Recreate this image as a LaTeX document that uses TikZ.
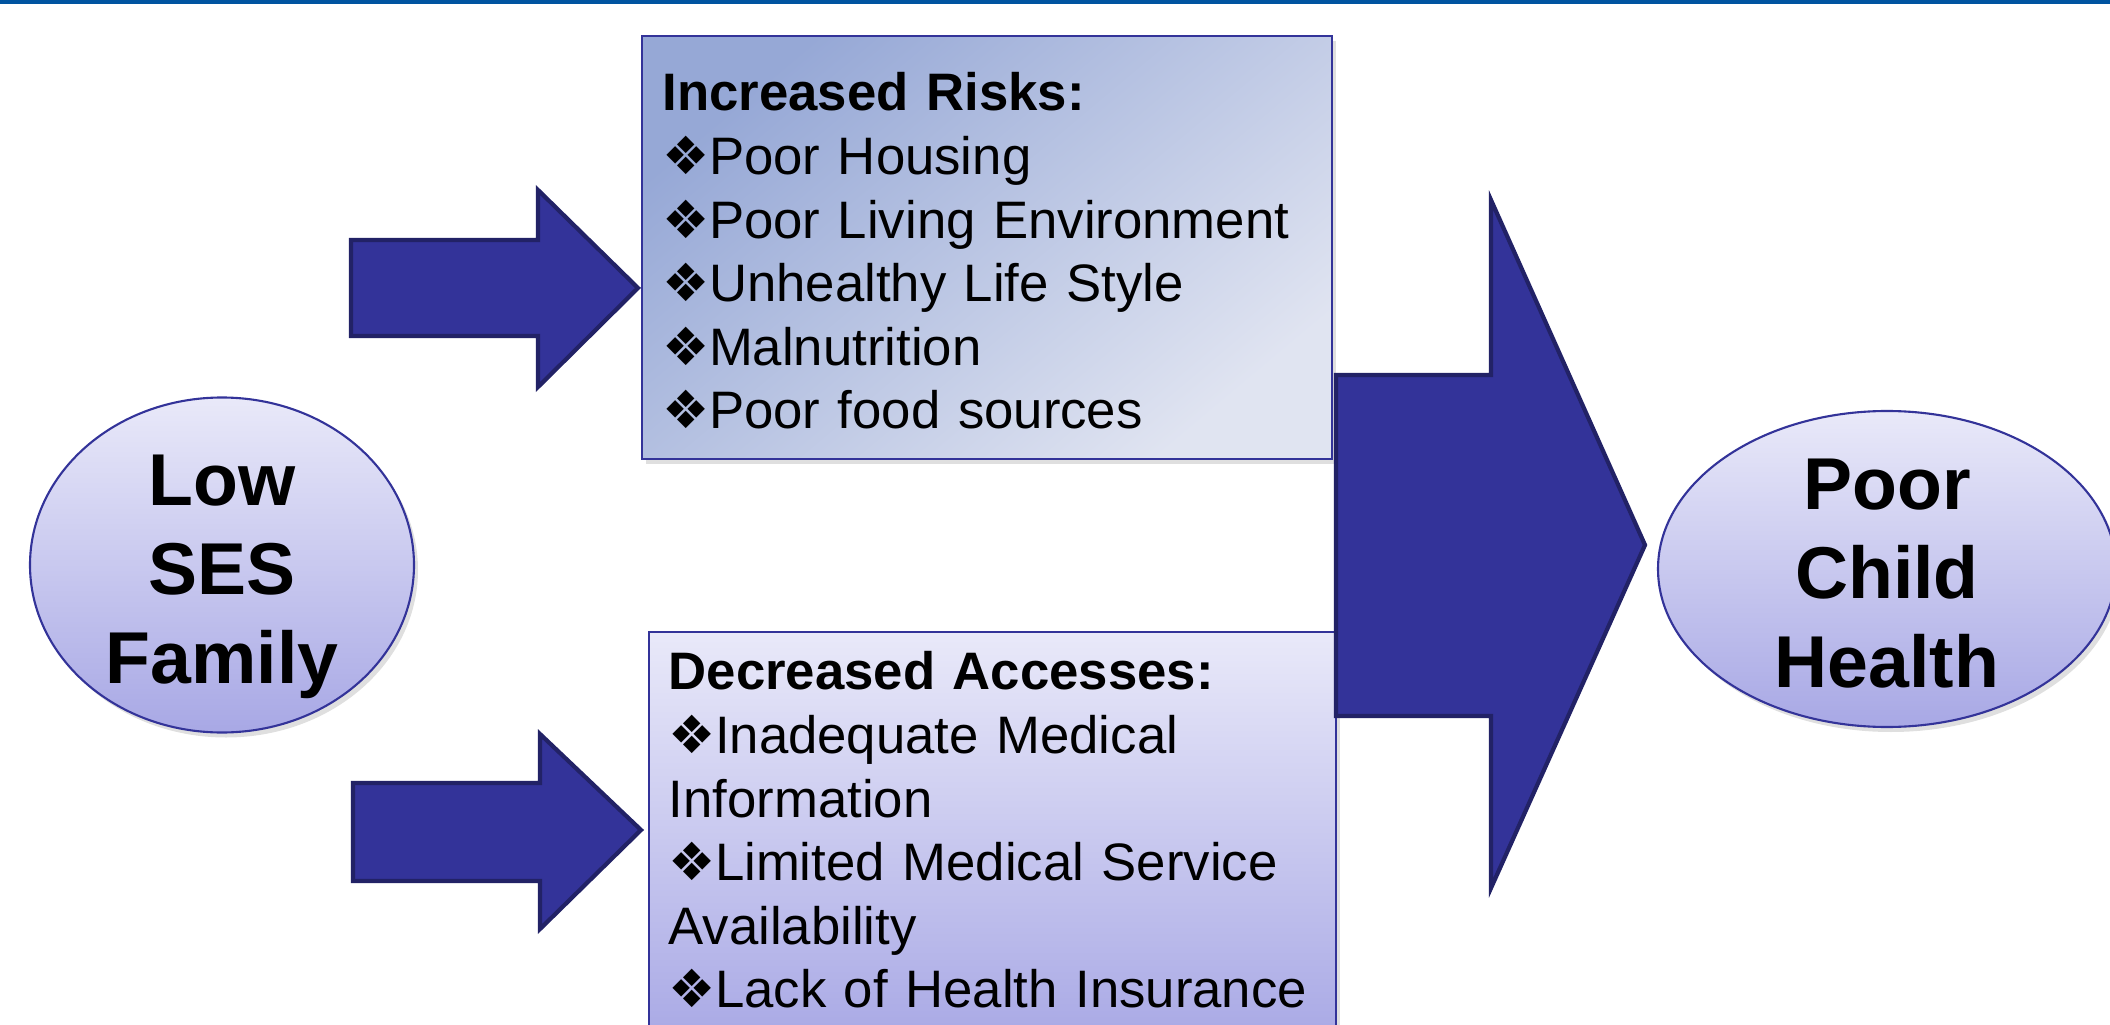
\documentclass[tikz,border=0pt]{standalone}
\usepackage{fontspec}
\setmainfont{Liberation Sans}
\newfontfamily\dingfont{DejaVu Sans}
\usetikzlibrary{positioning,shapes.geometric,shadows}

\definecolor{slideblue}{RGB}{0,84,160}
\definecolor{arrowfill}{RGB}{51,51,153}
\definecolor{arrowedge}{RGB}{34,34,102}
\definecolor{edgeblue}{RGB}{51,51,153}
\definecolor{riskdark}{RGB}{150,168,214}
\definecolor{risklight}{RGB}{224,228,241}
\definecolor{paletop}{RGB}{233,233,249}
\definecolor{palebot}{RGB}{168,168,229}

\newcommand{\dbul}{\makebox[0.88em][l]{\dingfont\fontsize{15}{15}\selectfont ❖}}

\begin{document}
\begin{tikzpicture}[
  blockarrow/.style={fill=arrowfill, draw=arrowedge, line width=1.2pt, line join=miter},
  oval/.style={ellipse, draw=edgeblue, line width=0.6pt, top color=paletop, bottom color=palebot,
    drop shadow={shadow xshift=0.04cm, shadow yshift=-0.05cm, opacity=0.25}},
  ovaltext/.style={align=center, inner sep=0pt, font=\bfseries\fontsize{20.9}{25.3}\selectfont},
  riskbox/.style={rectangle, draw=edgeblue, line width=0.6pt, top color=riskdark, bottom color=risklight,
    shading angle=40, minimum width=6.9cm, minimum height=4.23cm,
    drop shadow={shadow xshift=0.04cm, shadow yshift=-0.05cm, opacity=0.25}},
  accessbox/.style={rectangle, draw=edgeblue, line width=0.6pt, top color=paletop, bottom color=palebot,
    minimum width=6.87cm, minimum height=4.13cm,
    drop shadow={shadow xshift=0.04cm, shadow yshift=-0.05cm, opacity=0.25}},
  listtext/.style={inner sep=0pt, text width=6.55cm, align=left, font=\fontsize{15}{18.1}\selectfont}
]
  \path[use as bounding box] (0,0) rectangle (21.1,10.24);
  \clip (0,0) rectangle (21.1,10.24);

  % title rule
  \fill[slideblue] (0,10.20) rectangle (21.1,10.24);

  % family and outcome
  \node[oval, minimum width=3.84cm, minimum height=3.35cm] (ses) at (2.22,4.59) {};
  \node[ovaltext, yshift=-0.12cm] (sestext) at (ses) {Low\\SES\\Family};
  \node[oval, minimum width=4.58cm, minimum height=3.16cm] (health) at (18.87,4.55) {};
  \node[ovaltext, yshift=-0.05cm] (healthtext) at (health) {Poor\\Child\\Health};

  % the two lists
  \node[riskbox] (risks) at (9.87,7.765) {};
  \node[listtext, below right=0.37cm and 0.21cm of risks.north west] (risklist) {%
    \textbf{Increased Risks:}\\
    \dbul Poor Housing\\
    \dbul Poor Living Environment\\
    \dbul Unhealthy Life Style\\
    \dbul Malnutrition\\
    \dbul Poor food sources};

  \node[accessbox, anchor=north] (access) at (9.925,3.93) {};
  \node[listtext, below right=0.20cm and 0.20cm of access.north west] (accesslist) {%
    \textbf{Decreased Accesses:}\\
    \dbul Inadequate Medical\\
    Information\\
    \dbul Limited Medical Service\\
    Availability\\
    \dbul Lack of Health Insurance};

  % block arrows
  \filldraw[blockarrow] (3.51,7.84) -- ++(1.87,0) -- ++(0,0.50) -- (6.38,7.36)
    -- (5.38,6.37) -- ++(0,0.51) -- ++(-1.87,0) -- cycle;
  \filldraw[blockarrow] (3.53,2.41) -- ++(1.87,0) -- ++(0,0.49) -- (6.41,1.94)
    -- (5.40,0.95) -- ++(0,0.48) -- ++(-1.87,0) -- cycle;
  \filldraw[blockarrow] (13.36,6.49) -- ++(1.55,0) -- ++(0,1.75) -- (16.45,4.79)
    -- (14.91,1.36) -- ++(0,1.72) -- ++(-1.55,0) -- cycle;
\end{tikzpicture}
\end{document}
